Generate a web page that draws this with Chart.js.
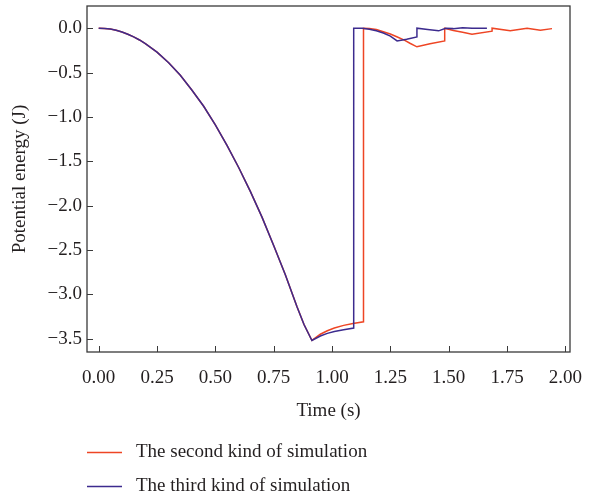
<!DOCTYPE html>
<html>
<head>
<meta charset="utf-8">
<script src="https://cdn.jsdelivr.net/npm/chart.js@4.4.1/dist/chart.umd.min.js"></script>
<style>
  html, body { margin: 0; padding: 0; background: #ffffff; }
  #wrap { width: 590px; height: 496px; }
</style>
</head>
<body>
<div id="wrap"><canvas id="c" width="590" height="496"></canvas></div>
<script>
// ---- DATA ----
const seriesNames = ["The second kind of simulation", "The third kind of simulation"];

const secondTime   = [0, 0.025, 0.05, 0.075, 0.10, 0.125, 0.15, 0.175, 0.20, 0.25, 0.30, 0.35, 0.40, 0.45, 0.50, 0.55, 0.60, 0.65, 0.70, 0.75, 0.80, 0.85, 0.88, 0.914,
                      0.95, 0.98, 1.01, 1.05, 1.09, 1.135, 1.135, 1.16, 1.19, 1.22, 1.25, 1.28, 1.31, 1.336, 1.364, 1.42, 1.483, 1.483,
                      1.52, 1.56, 1.60, 1.686, 1.686, 1.764, 1.836, 1.893, 1.943];
const secondEnergy = [0, -0.003, -0.01, -0.024, -0.043, -0.068, -0.098, -0.133, -0.174, -0.27, -0.39, -0.53, -0.70, -0.88, -1.09, -1.32, -1.57, -1.84, -2.13, -2.45, -2.78, -3.14, -3.34, -3.52,
                      -3.45, -3.41, -3.38, -3.35, -3.33, -3.31, 0, -0.003, -0.015, -0.04, -0.065, -0.10, -0.135, -0.173, -0.21, -0.175, -0.143, 0,
                      -0.025, -0.045, -0.068, -0.034, 0, -0.03, 0, -0.023, -0.005];

const thirdTime    = [0, 0.025, 0.05, 0.075, 0.10, 0.125, 0.15, 0.175, 0.20, 0.25, 0.30, 0.35, 0.40, 0.45, 0.50, 0.55, 0.60, 0.65, 0.70, 0.75, 0.80, 0.85, 0.88, 0.914,
                      0.95, 0.98, 1.01, 1.05, 1.093, 1.093, 1.13, 1.16, 1.19, 1.22, 1.25, 1.279, 1.32, 1.364, 1.364,
                      1.41, 1.457, 1.487, 1.52, 1.56, 1.60, 1.664];
const thirdEnergy  = [0, -0.003, -0.01, -0.024, -0.043, -0.068, -0.098, -0.133, -0.174, -0.27, -0.39, -0.53, -0.70, -0.88, -1.09, -1.32, -1.57, -1.84, -2.13, -2.45, -2.78, -3.14, -3.34, -3.52,
                      -3.47, -3.44, -3.42, -3.40, -3.38, 0, 0, -0.012, -0.03, -0.055, -0.09, -0.143, -0.125, -0.098, 0,
                      -0.015, -0.03, 0, -0.005, 0.005, 0, 0];

const xTicks = [0.00, 0.25, 0.50, 0.75, 1.00, 1.25, 1.50, 1.75, 2.00];
const yTicks = [0.0, -0.5, -1.0, -1.5, -2.0, -2.5, -3.0, -3.5];

const xTitle = "Time (s)";
const yTitle = "Potential energy (J)";

// ---- styling ----
const RED = "#ee4524";
const BLUE = "#3c2b8e";
const TEXT = "#231f20";
const FRAME = "#3a3a3a";
const FONT = "'Liberation Serif', 'Times New Roman', serif";

function pts(xs, ys) { return xs.map((x, i) => ({ x: x, y: ys[i] })); }
function zeroPad(s) { s.paddingTop = 0; s.paddingBottom = 0; s.paddingLeft = 0; s.paddingRight = 0; }

const framePlugin = {
  id: 'frameTicks',
  afterDraw(chart) {
    const ctx = chart.ctx;
    const a = chart.chartArea;
    const xs = chart.scales.x, ys = chart.scales.y;
    ctx.save();
    ctx.strokeStyle = FRAME;
    ctx.lineWidth = 1.3;
    ctx.strokeRect(a.left, a.top, a.right - a.left, a.bottom - a.top);
    ctx.lineWidth = 1;
    ctx.beginPath();
    xTicks.forEach(v => {
      const px = Math.round(xs.getPixelForValue(v)) + 0.5;
      ctx.moveTo(px, a.bottom);
      ctx.lineTo(px, a.bottom - 6);
    });
    yTicks.forEach(v => {
      const py = Math.round(ys.getPixelForValue(v)) + 0.5;
      ctx.moveTo(a.left, py);
      ctx.lineTo(a.left + 6, py);
    });
    ctx.stroke();

    // legend (below the plot, stacked)
    const rows = [452, 486];
    ctx.font = "19px " + FONT;
    ctx.textBaseline = 'middle';
    ctx.textAlign = 'left';
    chart.data.datasets.forEach((ds, i) => {
      const y = rows[i];
      ctx.strokeStyle = ds.borderColor;
      ctx.lineWidth = 1.3;
      ctx.beginPath();
      ctx.moveTo(87, y + 0.5);
      ctx.lineTo(122, y + 0.5);
      ctx.stroke();
      ctx.fillStyle = TEXT;
      ctx.fillText(ds.label, 136, y);
    });
    ctx.restore();
  }
};

new Chart(document.getElementById('c'), {
  type: 'scatter',
  data: {
    datasets: [
      { label: seriesNames[0], data: pts(secondTime, secondEnergy), showLine: true,
        borderColor: RED, backgroundColor: RED, borderWidth: 1.5, pointRadius: 0, tension: 0, order: 1 },
      { label: seriesNames[1], data: pts(thirdTime, thirdEnergy), showLine: true,
        borderColor: BLUE, backgroundColor: BLUE, borderWidth: 1.5, pointRadius: 0, tension: 0, order: 0 }
    ]
  },
  options: {
    responsive: false,
    devicePixelRatio: 1,
    animation: false,
    layout: { padding: { top: 6, right: 20, left: 0, bottom: 74 } },
    plugins: { legend: { display: false }, tooltip: { enabled: false } },
    scales: {
      x: {
        type: 'linear', min: -0.05, max: 2.02,
        afterFit(s) { s.height = 70; zeroPad(s); },
        afterBuildTicks(s) { s.ticks = xTicks.map(v => ({ value: v })); },
        grid: { display: false, drawTicks: false },
        border: { display: false },
        ticks: { padding: 15, color: TEXT, font: { family: FONT, size: 19 },
                 callback: v => v.toFixed(2) },
        title: { display: true, text: xTitle, color: TEXT, font: { family: FONT, size: 19 },
                 padding: { top: 0, bottom: 0 } }
      },
      y: {
        type: 'linear', min: -3.65, max: 0.25,
        afterFit(s) { s.width = 87; zeroPad(s); },
        afterBuildTicks(s) { s.ticks = yTicks.map(v => ({ value: v })); },
        grid: { display: false, drawTicks: false },
        border: { display: false },
        ticks: { padding: 5, color: TEXT, font: { family: FONT, size: 19 },
                 callback: v => (v < 0 ? "\u2212" : "") + Math.abs(v).toFixed(1) },
        title: { display: true, text: yTitle, color: TEXT, font: { family: FONT, size: 19 },
                 padding: { top: 9, bottom: 0 } }
      }
    }
  },
  plugins: [framePlugin]
});
</script>
</body>
</html>
